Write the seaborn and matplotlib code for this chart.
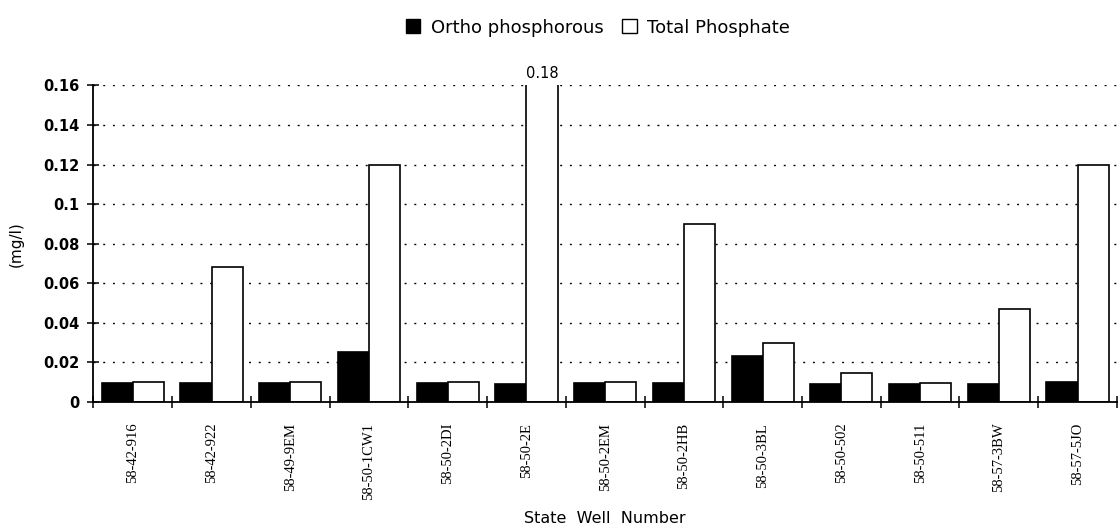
import matplotlib
matplotlib.use("Agg")
import matplotlib.pyplot as plt
import seaborn as sns
import pandas as pd
from matplotlib.ticker import FixedLocator, MultipleLocator

# Phosphorus concentrations by state well number (mg/l)
wells = ["58-42-916", "58-42-922", "58-49-9EM", "58-50-1CW1", "58-50-2DI",
         "58-50-2E", "58-50-2EM", "58-50-2HB", "58-50-3BL", "58-50-502",
         "58-50-511", "58-57-3BW", "58-57-5JO"]
ortho = [0.0098, 0.0098, 0.0095, 0.0255, 0.0095, 0.0092, 0.0095,
         0.0095, 0.0234, 0.0092, 0.009, 0.0092, 0.0103]
total = [0.01, 0.068, 0.01, 0.12, 0.01, 0.18, 0.01,
         0.09, 0.030, 0.0149, 0.0095, 0.047, 0.12]
series = ["Ortho phosphorous", "Total Phosphate"]
y_max = 0.16

df = pd.DataFrame({
    "well": wells * 2,
    "value": ortho + total,
    "series": [series[0]] * len(wells) + [series[1]] * len(wells),
})

sns.set_theme(style="white")
plt.rcParams["font.family"] = ["DejaVu Sans"]
plt.rcParams["text.color"] = "black"
plt.rcParams["axes.labelcolor"] = "black"
plt.rcParams["xtick.color"] = "black"
plt.rcParams["ytick.color"] = "black"

fig = plt.figure(figsize=(11.18, 5.29), dpi=100)
ax = fig.add_axes([0.0836, 0.240, 0.9154, 0.5986])

# dotted reference lines behind the bars
for yv in [0.02, 0.04, 0.06, 0.08, 0.10, 0.12, 0.14, 0.16]:
    ax.axhline(yv, color="black", lw=1.0, ls=(0, (1.4, 5.6)), zorder=0)

sns.barplot(data=df, x="well", y="value", hue="series", order=wells,
            hue_order=series, palette=["black", "white"], width=0.79,
            edgecolor="black", linewidth=1.2, saturation=1, ax=ax,
            legend=False, zorder=2)

ax.set_xlim(-0.5, len(wells) - 0.5)
ax.set_ylim(0, y_max)

# value label for the bar running off the top of the scale
for i, v in enumerate(total):
    if v > y_max:
        ax.annotate(f"{v:g}", xy=(i + 0.79 / 4, y_max), xytext=(0, 3),
                    textcoords="offset points", ha="center", va="bottom",
                    fontsize=10.5, annotation_clip=False)

for s in ["top", "right"]:
    ax.spines[s].set_visible(False)
for s in ["left", "bottom"]:
    ax.spines[s].set_color("black")
    ax.spines[s].set_linewidth(1.3)

ax.yaxis.set_major_locator(MultipleLocator(0.02))
ax.set_yticklabels([f"{t:g}" for t in ax.get_yticks()])
ax.tick_params(axis="y", direction="inout", length=8, width=1.1,
               color="black", labelsize=10.5, pad=6, left=True)
for lab in ax.get_yticklabels():
    lab.set_fontweight("bold")

ax.set_xticks(range(len(wells)))
ax.set_xticklabels(wells, rotation=90, fontfamily="Liberation Serif",
                   fontsize=10.5)
ax.tick_params(axis="x", which="major", length=0, pad=15)
ax.xaxis.set_minor_locator(FixedLocator([k + 0.5 for k in range(-1, len(wells))]))
ax.tick_params(axis="x", which="minor", direction="inout", length=8,
               width=1.1, color="black", bottom=True)

ax.set_xlabel("State  Well  Number", fontsize=11.5, labelpad=8)
ax.set_ylabel("(mg/l)", fontsize=11, labelpad=14)

handles = [plt.Rectangle((0, 0), 1, 1, facecolor=c, edgecolor="black", lw=1.0)
           for c in ["black", "white"]]
fig.legend(handles, series, loc="center", bbox_to_anchor=(0.535, 0.948),
           ncol=2, frameon=False, fontsize=13, handlelength=0.8,
           handleheight=0.8, handletextpad=0.6, columnspacing=1.0)

fig.savefig("out.png", dpi=100, facecolor="white")
